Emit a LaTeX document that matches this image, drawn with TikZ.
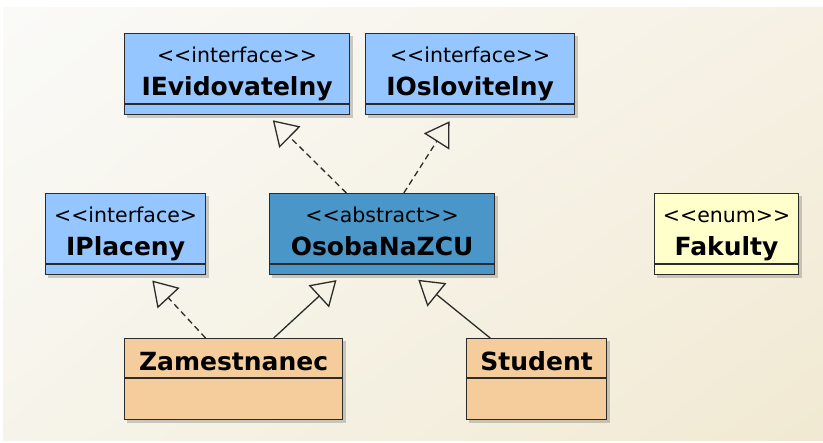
\documentclass[tikz,border=0pt]{standalone}
\usepackage{fontspec}
\setmainfont{DejaVu Sans}
\usetikzlibrary{
  arrows.meta,
  positioning,
  fit,
  backgrounds,
  calc,
  shadings
}
\definecolor{IfaceBlue}{HTML}{96C6FF}
\definecolor{AbstBlue}{HTML}{4A96C8}
\definecolor{EnumYellow}{HTML}{FFFFCC}
\definecolor{ClassTan}{HTML}{F5CC9B}
\definecolor{BoxLine}{HTML}{2B2B2B}
\definecolor{BgTL}{HTML}{FAFAF8}
\definecolor{BgTR}{HTML}{F6F1E4}
\definecolor{BgBL}{HTML}{F6F4EA}
\definecolor{BgBR}{HTML}{F1E9D2}
% stereotype brackets (kern stops the << -> guillemet mapping)
\newcommand{\lsq}{<\kern0pt<}
\newcommand{\rsq}{>\kern0pt>}
\newcommand{\stfont}{\mdseries\fontsize{20.5}{33}\selectfont}
\newcommand{\stereo}[1]{{\stfont\lsq#1\rsq}}
\tikzset{
  % Class header (name area)
  hdr/.style={
    rectangle, draw=BoxLine, fill=#1, line width=1.2pt,
    anchor=north west, inner sep=0pt, align=center,
    text depth=0pt, font=\fontsize{25}{33}\selectfont\bfseries
  },
  % Header with stereotype line + name
  twoline/.style={minimum height=70pt, text height=53.4pt},
  % Header with name only
  oneline/.style={minimum height=39pt, text height=25pt},
  % Empty compartment under a header
  cmp/.style={
    rectangle, draw=BoxLine, fill=#1, line width=1.2pt, inner sep=0pt
  },
  % Generalisation arrow
  gen/.style={
    -{Triangle[open, length=24pt, width=30pt]},
    line width=1.3pt, draw=BoxLine, shorten >=7pt
  },
  % Realisation arrow
  real/.style={gen, dash pattern=on 6pt off 4pt},
  % Box shadow
  shadowbox/.style={
    inner sep=0pt, draw=none, fill=black, fill opacity=0.18,
    xshift=3pt, yshift=-3pt
  }
}

\begin{document}
\begin{tikzpicture}[x=1pt, y=1pt]
  \useasboundingbox (0,0) rectangle (823,443);

  % Interfaces
  \node[hdr=IfaceBlue, twoline, minimum width=225pt] (ievid) at (124,410) {\stereo{interface}\\IEvidovatelny};
  \node[cmp=IfaceBlue, minimum width=225pt, minimum height=10pt, below=0pt of ievid] (ievid-c) {};
  \node[hdr=IfaceBlue, twoline, minimum width=209pt] (ioslov) at (365,410) {\stereo{interface}\\IOslovitelny};
  \node[cmp=IfaceBlue, minimum width=209pt, minimum height=10pt, below=0pt of ioslov] (ioslov-c) {};
  \node[hdr=IfaceBlue, twoline, minimum width=160pt] (iplac) at (45,250) {{\stfont\lsq interface>}\\IPlaceny};
  \node[cmp=IfaceBlue, minimum width=160pt, minimum height=10pt, below=0pt of iplac] (iplac-c) {};

  % Abstract class and enum
  \node[hdr=AbstBlue, twoline, minimum width=225pt] (osoba) at (269,250) {\stereo{abstract}\\OsobaNaZCU};
  \node[cmp=AbstBlue, minimum width=225pt, minimum height=10pt, below=0pt of osoba] (osoba-c) {};
  \node[hdr=EnumYellow, twoline, minimum width=144pt] (fak) at (654,250) {\stereo{enum}\\Fakulty};
  \node[cmp=EnumYellow, minimum width=144pt, minimum height=10pt, below=0pt of fak] (fak-c) {};

  % Concrete classes
  \node[hdr=ClassTan, oneline, minimum width=218pt] (zam) at (124,105) {Zamestnanec};
  \node[cmp=ClassTan, minimum width=218pt, minimum height=41pt, below=0pt of zam] (zam-c) {};
  \node[hdr=ClassTan, oneline, minimum width=140pt] (stud) at (466,105) {Student};
  \node[cmp=ClassTan, minimum width=140pt, minimum height=41pt, below=0pt of stud] (stud-c) {};

  % Background and shadows
  \begin{scope}[on background layer]
    \shade[upper left=BgTL, upper right=BgTR, lower left=BgBL, lower right=BgBR] (3,2) rectangle (823,435);
    \foreach \c in {ievid,ioslov,iplac,osoba,fak,zam,stud}
      \node[shadowbox, fit=(\c)(\c-c)] {};
  \end{scope}

  % Realisations
  \draw[real] ($(osoba.north west)!0.342!(osoba.north east)$) -- ($(ievid-c.south west)!0.636!(ievid-c.south east)$);
  \draw[real] ($(osoba.north west)!0.596!(osoba.north east)$) -- ($(ioslov-c.south west)!0.42!(ioslov-c.south east)$);
  \draw[real] ($(zam.north west)!0.372!(zam.north east)$) -- ($(iplac-c.south west)!0.636!(iplac-c.south east)$);

  % Generalisations
  \draw[gen] ($(zam.north west)!0.683!(zam.north east)$) -- ($(osoba-c.south west)!0.321!(osoba-c.south east)$);
  \draw[gen] ($(stud.north west)!0.171!(stud.north east)$) -- ($(osoba-c.south west)!0.636!(osoba-c.south east)$);
\end{tikzpicture}
\end{document}
